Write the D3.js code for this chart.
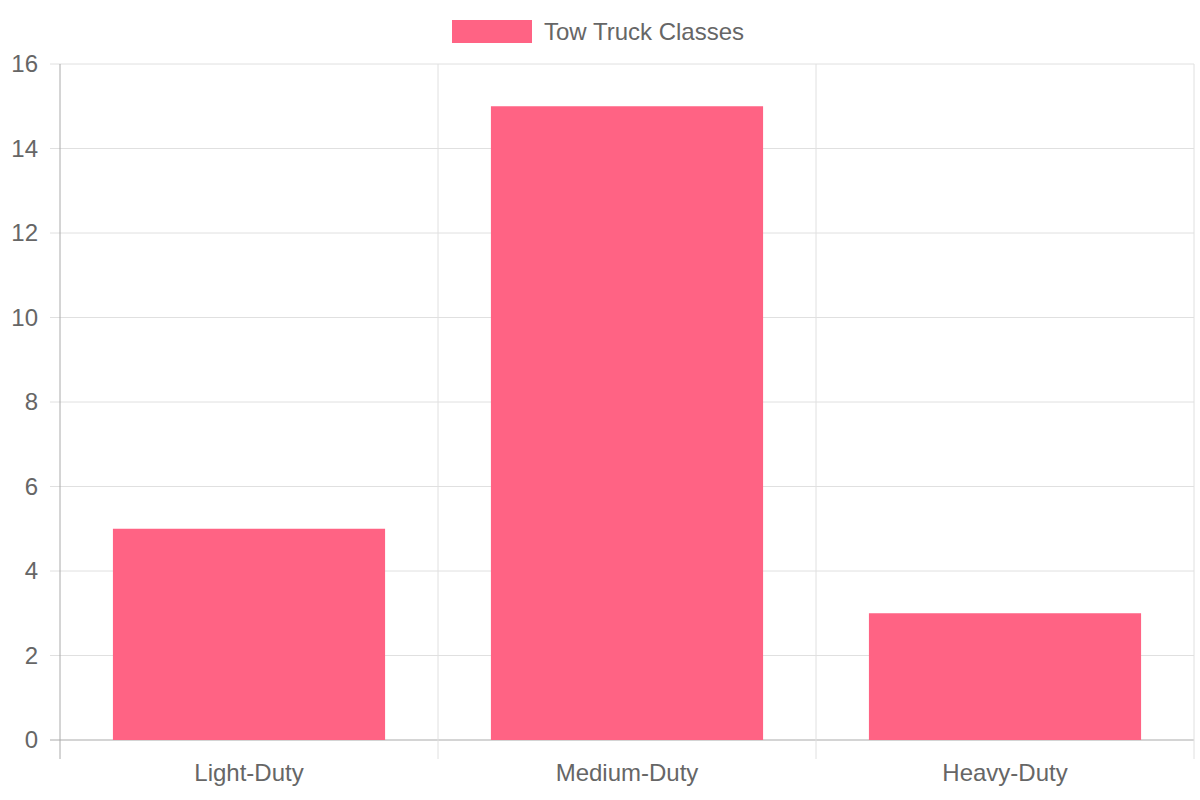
<!DOCTYPE html>
<html>
<head>
<meta charset="utf-8">
<script src="https://cdn.jsdelivr.net/npm/d3@7"></script>
<style>
  body { margin: 0; background: #fff; }
  text { font-family: "Liberation Sans", Arial, sans-serif; fill: #666; }
</style>
</head>
<body>
<div id="chart"></div>
<script>
var categories = ["Light-Duty", "Medium-Duty", "Heavy-Duty"];
var values = [5, 15, 3];
var yTicks = [0, 2, 4, 6, 8, 10, 12, 14, 16];
var seriesName = "Tow Truck Classes";

var width = 1200, height = 800;
var plotLeft = 60, plotRight = 1194, plotTop = 64, plotBottom = 740;
var fontSize = 24;

var svg = d3.select("#chart").append("svg").attr("width", width).attr("height", height);

var x = d3.scaleBand().domain(categories).range([plotLeft, plotRight]).paddingInner(0).paddingOuter(0);
var y = d3.scaleLinear().domain([0, 16]).range([plotBottom, plotTop]);

// horizontal grid
svg.selectAll(".hgrid").data(yTicks).enter().append("line")
  .attr("x1", plotLeft - 10).attr("x2", plotRight)
  .attr("y1", function (d) { return y(d); }).attr("y2", function (d) { return y(d); })
  .attr("stroke", function (d) { return d === 0 ? "#aaa" : "#e0e0e0"; })
  .attr("stroke-width", 1);

// vertical grid
var edges = categories.map(function (c) { return x(c); }).concat([plotRight]);
svg.selectAll(".vgrid").data(edges).enter().append("line")
  .attr("x1", function (d) { return d; }).attr("x2", function (d) { return d; })
  .attr("y1", plotTop).attr("y2", plotBottom + 19)
  .attr("stroke", function (d, i) { return i === 0 ? "#aaa" : "#e0e0e0"; })
  .attr("stroke-width", 1);

// bars
var barW = x.bandwidth() * 0.72;
svg.selectAll(".bar").data(values).enter().append("rect")
  .attr("x", function (d, i) { return x(categories[i]) + (x.bandwidth() - barW) / 2; })
  .attr("y", function (d) { return y(d); })
  .attr("width", barW)
  .attr("height", function (d) { return y(0) - y(d); })
  .attr("fill", "#ff6384");

// y labels
svg.selectAll(".ylab").data(yTicks).enter().append("text")
  .attr("x", 38).attr("y", function (d) { return y(d); })
  .attr("dy", "0.35em").attr("text-anchor", "end")
  .attr("font-size", fontSize).text(function (d) { return d; });

// x labels
svg.selectAll(".xlab").data(categories).enter().append("text")
  .attr("x", function (d) { return x(d) + x.bandwidth() / 2; })
  .attr("y", 773).attr("dy", "0.35em").attr("text-anchor", "middle")
  .attr("font-size", fontSize).text(function (d) { return d; });

// legend
svg.append("rect").attr("x", 452).attr("y", 20).attr("width", 80).attr("height", 23).attr("fill", "#ff6384");
svg.append("text").attr("x", 544).attr("y", 32).attr("dy", "0.35em")
  .attr("font-size", fontSize).text(seriesName);
</script>
</body>
</html>
